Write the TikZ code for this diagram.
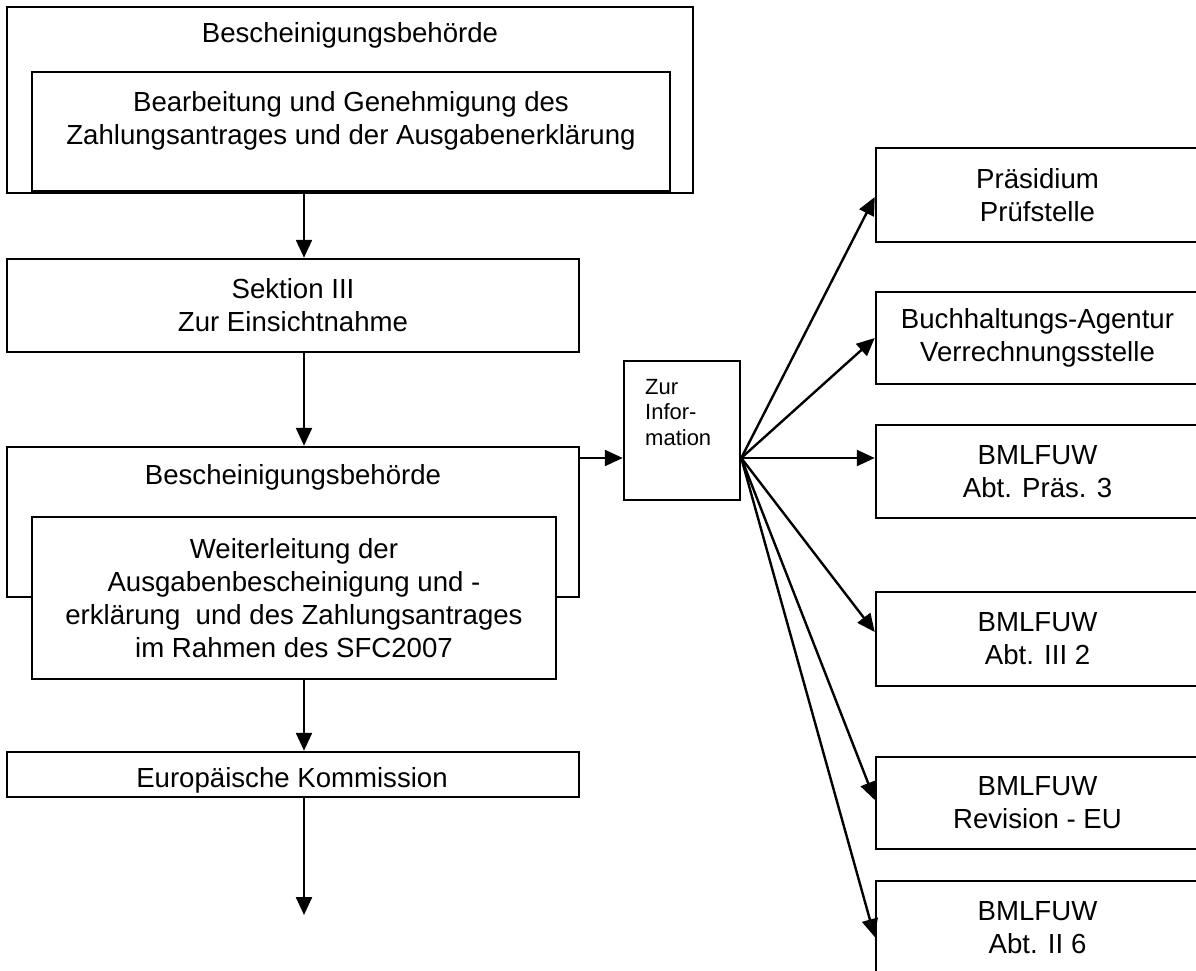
\documentclass[tikz,border=0pt]{standalone}
\usepackage{fontspec}
\setmainfont{Liberation Sans}
\usetikzlibrary{arrows.meta}
\begin{document}
\begin{tikzpicture}[x=1pt,y=-1pt,
  box/.style={draw, line width=2.5pt, inner sep=0pt, fill=white},
  arr/.style={-{Triangle[length=18pt,width=16pt]}, line width=2.4pt},
  txt/.style={font=\fontsize{27.6}{33}\selectfont, align=center, inner sep=0pt},
  small/.style={font=\fontsize{22}{25.5}\selectfont, align=left, inner sep=0pt}]
\useasboundingbox (0,0) rectangle (1196,971);
% left column
\node[box, minimum width=686pt, minimum height=186pt] (aout) at (350,100) {};
\node[box, minimum width=638pt, minimum height=119pt] (ain) at (351,131.5) {};
\node[txt, anchor=base] (atitle) at (350,43) {Bescheinigungsbehörde};
\node[txt, anchor=base] (atext) at (351,145) {Bearbeitung und Genehmigung des\\Zahlungsantrages und der Ausgabenerklärung};
\node[box, txt, minimum width=572pt, minimum height=93pt] (sek) at (293,305.5) {Sektion III\\Zur Einsichtnahme};
\node[box, minimum width=572pt, minimum height=150pt] (mout) at (293,522) {};
\node[txt, anchor=base] (mtitle) at (293,484) {Bescheinigungsbehörde};
\node[box, txt, minimum width=524pt, minimum height=162pt] (min) at (294,598) {Weiterleitung der\\Ausgabenbescheinigung und -\\erklärung\ \ und des Zahlungsantrages\\im Rahmen des SFC2007};
\node[box, minimum width=572pt, minimum height=45pt] (ek) at (293,774.5) {};
\node[txt, anchor=base] (ektext) at (292,787) {Europäische Kommission};
% info box
\node[box, minimum width=116pt, minimum height=139pt] (zur) at (682,430.5) {};
\node[small, anchor=base west] (zurtext) at (645,445) {Zur\\Infor-\\mation};
% right column
\node[box, txt, minimum width=323pt, minimum height=94pt] (p1) at (1037.5,195) {Präsidium\\Prüfstelle};
\node[box, txt, minimum width=323pt, minimum height=92pt] (p2) at (1037.5,338) {Buchhaltungs-Agentur\\Verrechnungsstelle};
\node[box, txt, minimum width=323pt, minimum height=93pt] (p3) at (1037.5,471.5) {BMLFUW\\Abt. Präs. 3};
\node[box, txt, minimum width=323pt, minimum height=94pt] (p4) at (1037.5,639) {BMLFUW\\Abt. III 2};
\node[box, txt, minimum width=323pt, minimum height=92pt] (p5) at (1037.5,803) {BMLFUW\\Revision - EU};
\node[box, txt, minimum width=323pt, minimum height=94pt] (p6) at (1037.5,928) {BMLFUW\\Abt. II 6};
% helper coordinates
\coordinate (col) at (304,0);
\coordinate (fy) at (0,458);
\coordinate (fan) at (zur.east |- fy);
\coordinate (end) at (304,915);
% connectors
\draw[arr] (aout.south -| col) -- (sek.north -| col);
\draw[arr] (sek.south -| col) -- (mout.north -| col);
\draw[arr] (min.south -| col) -- (ek.north -| col);
\draw[arr] (ek.south -| col) -- (end);
\draw[arr] (mout.east |- fy) -- (zur.west |- fy);
\draw[arr] (fan) -- ([yshift=-2pt]p1.west);
\draw[arr] (fan) -- (p2.west);
\draw[arr] (fan) -- (p3.west |- fy);
\draw[arr] (fan) -- ([yshift=7pt]p4.west);
\draw[arr] (fan) -- ([yshift=3pt]p5.west);
\draw[arr] (fan) -- ([yshift=-9pt]p6.west);
\end{tikzpicture}
\end{document}
